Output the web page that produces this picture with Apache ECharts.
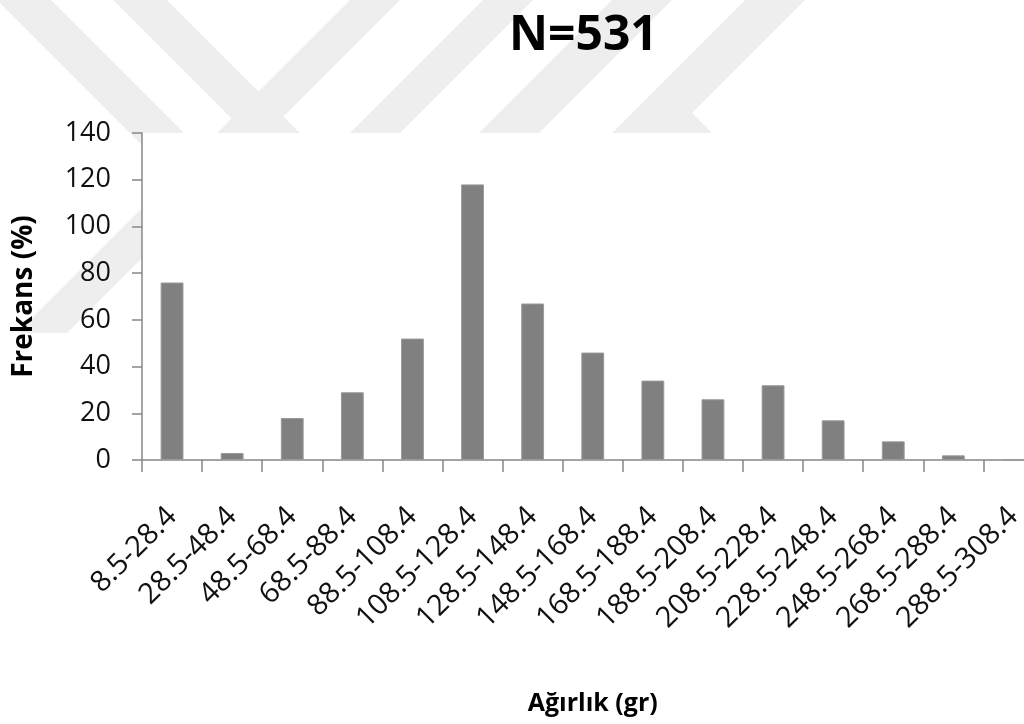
<!DOCTYPE html>
<html>
<head>
<meta charset="utf-8">
<title>N=531</title>
<script src="https://cdn.jsdelivr.net/npm/echarts@6/dist/echarts.min.js"></script>
<style>
  html, body { margin: 0; padding: 0; background: #ffffff; }
  #chart { width: 1024px; height: 724px; }
</style>
</head>
<body>
<div id="chart"></div>
<script>
// Weight classes (g) and their frequencies
const weightClasses = [
  '8.5-28.4', '28.5-48.4', '48.5-68.4', '68.5-88.4', '88.5-108.4',
  '108.5-128.4', '128.5-148.4', '148.5-168.4', '168.5-188.4', '188.5-208.4',
  '208.5-228.4', '228.5-248.4', '248.5-268.4', '268.5-288.4', '288.5-308.4'
];
const frequencies = [76, 3, 18, 29, 52, 118, 67, 46, 34, 26, 32, 17, 8, 2, 0];

const titleText = 'N=531';
const xAxisTitle = 'Ağırlık (gr)';
const yAxisTitle = 'Frekans (%)';
const yMin = 0;
const yMax = 140;
const yStep = 20;

const FONT = "'Open Sans', 'Noto Sans', sans-serif";
const AXIS_GRAY = '#878787';
const BAND_GRAY = '#eeeeee';

// Faint emblem bands in the page background
const emblemBands = [
  [[-3, 0], [51, 0], [211, 160], [157, 160]],
  [[113, 0], [167, 0], [307, 140], [253, 140]],
  [[350, 0], [400, 0], [67, 333], [17, 333]],
  [[483, 0], [533, 0], [393, 140], [343, 140]],
  [[612, 0], [672, 0], [532, 140], [472, 140]],
  [[745, 0], [805, 0], [692, 113], [719, 140], [605, 140]]
];

const chart = echarts.init(document.getElementById('chart'), null, { renderer: 'canvas' });

chart.setOption({
  backgroundColor: '#ffffff',
  animation: false,
  textStyle: { fontFamily: FONT },
  graphic: emblemBands.map(pts => ({
    type: 'polygon',
    z: -10,
    silent: true,
    shape: { points: pts },
    style: { fill: BAND_GRAY }
  })),
  title: {
    text: titleText,
    left: 504,
    top: 7,
    textStyle: { fontFamily: FONT, fontSize: 48, fontWeight: 'bold', color: '#000000' }
  },
  grid: {
    left: 142,
    top: 133,
    width: 901.5,
    height: 327,
    show: true,
    backgroundColor: '#ffffff',
    borderWidth: 0,
    containLabel: false,
    outerBoundsMode: 'none'
  },
  xAxis: {
    type: 'category',
    data: weightClasses,
    name: xAxisTitle,
    nameLocation: 'middle',
    nameGap: 231,
    nameTextStyle: { fontFamily: FONT, fontSize: 25, fontWeight: 'bold', color: '#000000' },
    axisLine: { show: true, lineStyle: { color: AXIS_GRAY, width: 1.5 } },
    axisTick: { show: true, length: 12, lineStyle: { color: AXIS_GRAY, width: 1.5 } },
    axisLabel: {
      interval: 0,
      rotate: 45,
      margin: 52,
      fontFamily: FONT,
      fontSize: 29,
      color: '#111111'
    },
    splitLine: { show: false }
  },
  yAxis: {
    type: 'value',
    min: yMin,
    max: yMax,
    interval: yStep,
    name: yAxisTitle,
    nameLocation: 'middle',
    nameGap: 104,
    nameTextStyle: { fontFamily: FONT, fontSize: 28, fontWeight: 'bold', color: '#000000' },
    axisLine: { show: true, lineStyle: { color: AXIS_GRAY, width: 1.5 } },
    axisTick: { show: true, length: 10, lineStyle: { color: AXIS_GRAY, width: 1.5 } },
    axisLabel: { margin: 31, fontFamily: FONT, fontSize: 27, color: '#111111' },
    splitLine: { show: false }
  },
  series: [{
    type: 'bar',
    data: frequencies,
    barWidth: '38%',
    itemStyle: { color: '#808080', borderColor: '#9a9a9a', borderWidth: 1 }
  }]
});
</script>
</body>
</html>
